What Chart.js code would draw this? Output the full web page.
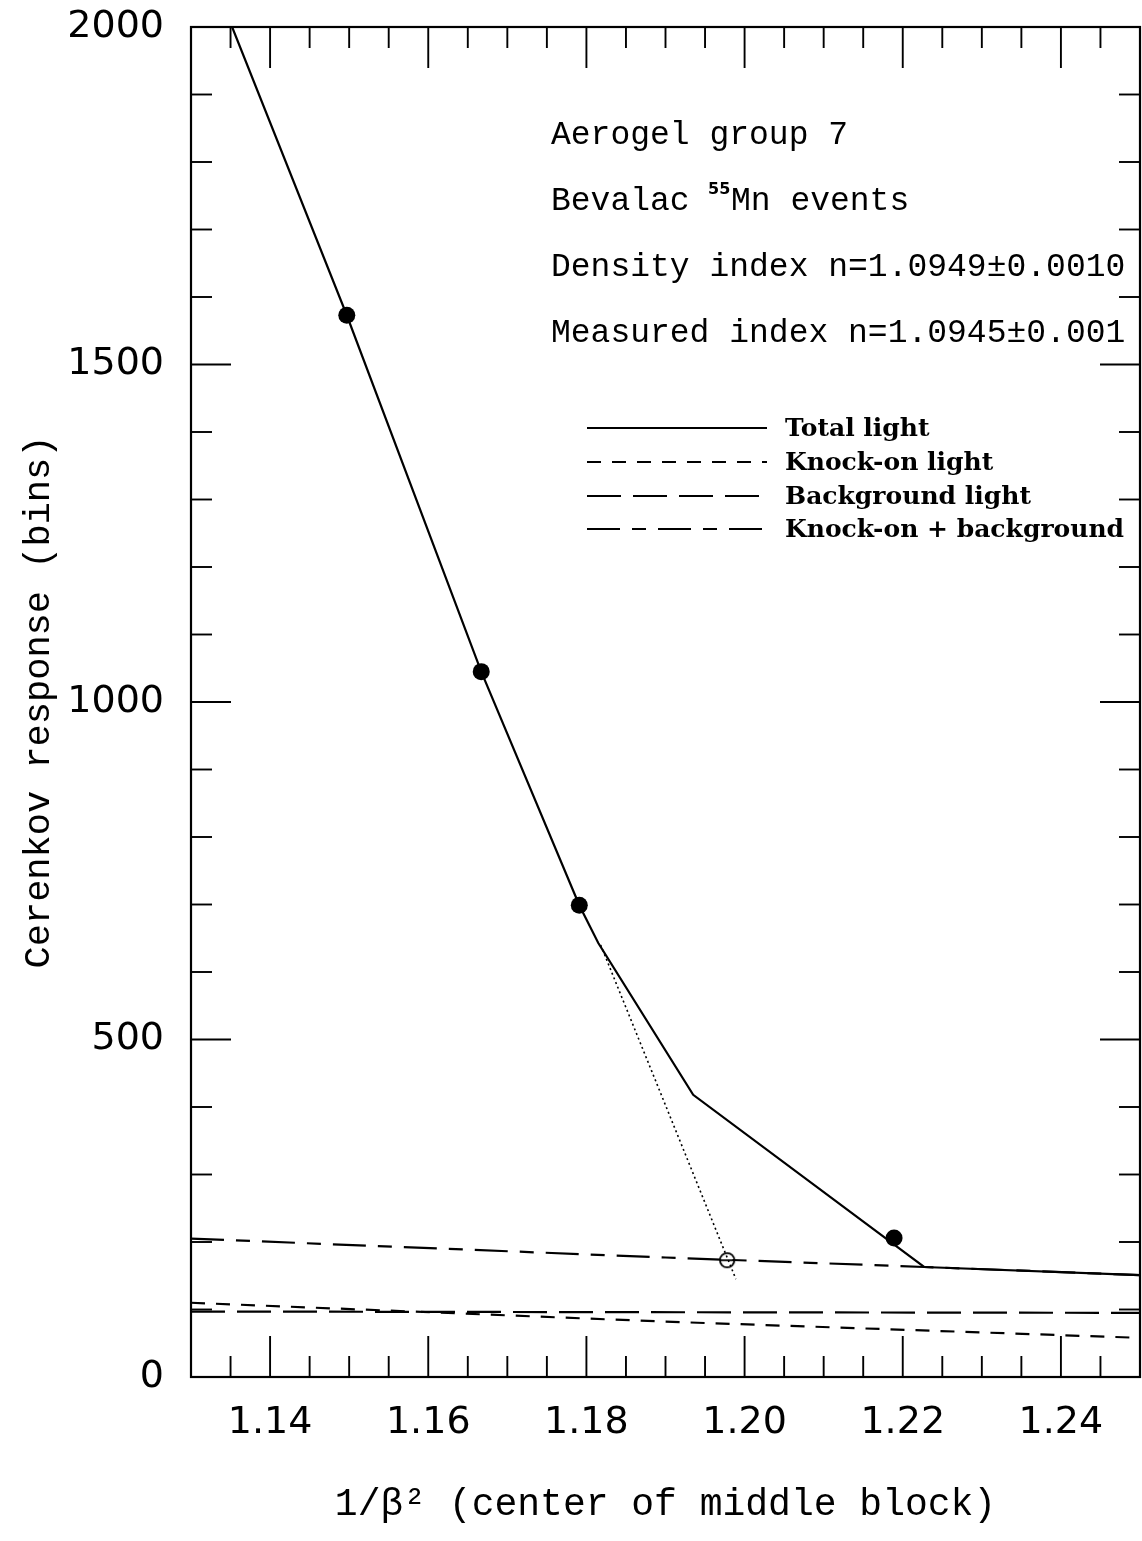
<!DOCTYPE html>
<html><head><meta charset="utf-8">
<script src="https://cdn.jsdelivr.net/npm/chart.js@4.4.1/dist/chart.umd.min.js"></script>
<style>html,body{margin:0;padding:0;background:#fff;overflow:hidden}#wrap{width:1142px;height:1541px;position:relative;overflow:hidden}canvas{display:block}</style>
</head><body><div id="wrap"><canvas id="c"></canvas></div>
<script>
// ---- data ----
const measuredX = [1.1497, 1.1667, 1.1791, 1.2189];
const measuredY = [1573, 1045, 699, 206];
const openX = [1.1978];
const openY = [173];
const totalX = [1.1352, 1.1497, 1.1667, 1.1791, 1.1815, 1.1935, 1.2227, 1.25];
const totalY = [2000, 1573, 1045, 699, 643, 418, 163, 151];
const extrapX = [1.1818, 1.1989];
const extrapY = [640, 145];
const knockX = [1.13, 1.19, 1.25];
const knockY = [110, 82, 58];
const bgX = [1.13, 1.25];
const bgY = [97, 95];
const kbX = [1.13, 1.19, 1.2227, 1.25];
const kbY = [205, 177, 163, 151];
const xMajorTicks = [1.14, 1.16, 1.18, 1.20, 1.22, 1.24];
const yMajorTicks = [0, 500, 1000, 1500, 2000];
const xMinorStep = 0.005, yMinorStep = 100;
const xMin = 1.13, xMax = 1.25, yMin = 0, yMax = 2000;
const legendLabels = ['Total light', 'Knock-on light', 'Background light', 'Knock-on + background'];
const xTitle = '1/\u03B2\u00B2 (center of middle block)';
const yTitle = 'Cerenkov response (bins)';

const zip = (xs, ys) => xs.map((v, i) => ({x: v, y: ys[i]}));

function openMarker() {
  const c = document.createElement('canvas'); c.width = 20; c.height = 20;
  const g = c.getContext('2d');
  g.strokeStyle = '#000'; g.lineWidth = 1.8;
  g.beginPath(); g.arc(10, 10, 7.2, 0, Math.PI * 2); g.stroke();
  g.beginPath(); g.moveTo(3, 10); g.lineTo(17, 10); g.stroke();
  return c;
}

function noPad(s) { s.paddingTop = 0; s.paddingBottom = 0; s.paddingLeft = 0; s.paddingRight = 0; }

const framePlugin = {
  id: 'frame',
  afterDatasetsDraw(chart) {
    const {ctx, chartArea: a, scales: {x, y}} = chart;
    ctx.save();
    ctx.strokeStyle = '#000'; ctx.setLineDash([]);
    ctx.lineWidth = 2.2;
    ctx.strokeRect(a.left, a.top, a.right - a.left, a.bottom - a.top);
    ctx.lineWidth = 1.9;
    const seg = (x1, y1, x2, y2) => { ctx.beginPath(); ctx.moveTo(x1, y1); ctx.lineTo(x2, y2); ctx.stroke(); };
    const nx = Math.round((xMax - xMin) / xMinorStep);
    for (let i = 1; i < nx; i++) {
      const v = xMin + i * xMinorStep;
      const px = x.getPixelForValue(v);
      const major = xMajorTicks.some(t => Math.abs(t - v) < 1e-6);
      const L = major ? 41 : 21;
      seg(px, a.bottom, px, a.bottom - L);
      seg(px, a.top, px, a.top + L);
    }
    const ny = Math.round((yMax - yMin) / yMinorStep);
    for (let i = 1; i < ny; i++) {
      const v = yMin + i * yMinorStep;
      const py = y.getPixelForValue(v);
      const major = yMajorTicks.some(t => Math.abs(t - v) < 1e-6);
      const L = major ? 40 : 21;
      seg(a.left, py, a.left + L, py);
      seg(a.right, py, a.right - L, py);
    }
    ctx.restore();
  }
};

const textPlugin = {
  id: 'texts',
  afterDraw(chart) {
    const {ctx, chartArea: a} = chart;
    ctx.save();
    ctx.fillStyle = '#000';
    ctx.textBaseline = 'alphabetic';
    ctx.textAlign = 'left';
    const tx = a.left + 360;
    ctx.font = '33px "Liberation Mono"';
    ctx.fillText('Aerogel group 7', tx, 144);
    ctx.fillText('Bevalac', tx, 210);
    ctx.font = 'bold 16px "DejaVu Sans"';
    ctx.fillText('55', tx + 157, 194);
    ctx.font = '33px "Liberation Mono"';
    ctx.fillText('Mn events', tx + 180, 210);
    ctx.fillText('Density index n=1.0949\u00B10.0010', tx, 276);
    ctx.fillText('Measured index n=1.0945\u00B10.001', tx, 342);

    // legend
    const ds = chart.data.datasets;
    const legendDs = [ds[0], ds[2], ds[3], ds[4]];
    const ys = [428, 462, 496, 529];
    legendDs.forEach((d, i) => {
      ctx.strokeStyle = '#000';
      ctx.lineWidth = d.borderWidth;
      ctx.setLineDash(d.borderDash || []);
      ctx.beginPath(); ctx.moveTo(587, ys[i]); ctx.lineTo(767, ys[i]); ctx.stroke();
      ctx.setLineDash([]);
      ctx.font = 'bold 25px "DejaVu Serif"';
      ctx.textBaseline = 'middle';
      ctx.fillText(legendLabels[i], 785, ys[i] + 1);
    });
    ctx.restore();
  }
};

Chart.defaults.color = '#000';
new Chart(document.getElementById('c'), {
  type: 'scatter',
  data: {
    datasets: [
      {label: legendLabels[0], data: zip(totalX, totalY), showLine: true, borderColor: '#000', borderWidth: 2.2, pointRadius: 0, order: 5},
      {label: 'extrapolation', data: zip(extrapX, extrapY), showLine: true, borderColor: '#000', borderWidth: 1.6, borderDash: [2, 3], pointRadius: 0, order: 6},
      {label: legendLabels[1], data: zip(knockX, knockY), showLine: true, borderColor: '#000', borderWidth: 2.2, borderDash: [14, 11], pointRadius: 0, order: 7},
      {label: legendLabels[2], data: zip(bgX, bgY), showLine: true, borderColor: '#000', borderWidth: 2.2, borderDash: [34, 12], pointRadius: 0, order: 8},
      {label: legendLabels[3], data: zip(kbX, kbY), showLine: true, borderColor: '#000', borderWidth: 2.2, borderDash: [33, 12, 14, 12], pointRadius: 0, order: 9},
      {label: 'measured', data: zip(measuredX, measuredY), showLine: false, pointStyle: 'circle', pointRadius: 8.5, backgroundColor: '#000', borderColor: '#000', borderWidth: 0, order: 1},
      {label: 'open', data: zip(openX, openY), showLine: false, pointStyle: openMarker(), pointRadius: 8, order: 2}
    ]
  },
  options: {
    responsive: true, maintainAspectRatio: false, animation: false,
    layout: {autoPadding: false, padding: {top: 27, right: 2, left: 0, bottom: 0}},
    plugins: {legend: {display: false}, tooltip: {enabled: false}},
    scales: {
      x: {
        type: 'linear', min: xMin, max: xMax,
        grid: {display: false}, border: {display: false},
        afterBuildTicks: s => { s.ticks = xMajorTicks.map(v => ({value: v})); },
        afterFit: s => { s.height = 164; noPad(s); },
        ticks: {padding: 15, maxRotation: 0, autoSkip: false, font: {family: 'DejaVu Sans', size: 38}, callback: v => Number(v).toFixed(2)},
        title: {display: true, text: xTitle, font: {family: 'Liberation Mono', size: 38}, padding: {top: 0, bottom: 13}}
      },
      y: {
        type: 'linear', min: yMin, max: yMax,
        grid: {display: false}, border: {display: false},
        afterBuildTicks: s => { s.ticks = yMajorTicks.map(v => ({value: v})); },
        afterFit: s => { s.width = 191; noPad(s); },
        ticks: {padding: 19, autoSkip: false, font: {family: 'DejaVu Sans', size: 38}, callback: v => String(v)},
        title: {display: true, text: yTitle, font: {family: 'Liberation Mono', size: 37}, padding: {top: 17, bottom: 0}}
      }
    }
  },
  plugins: [framePlugin, textPlugin]
});
</script></body></html>
